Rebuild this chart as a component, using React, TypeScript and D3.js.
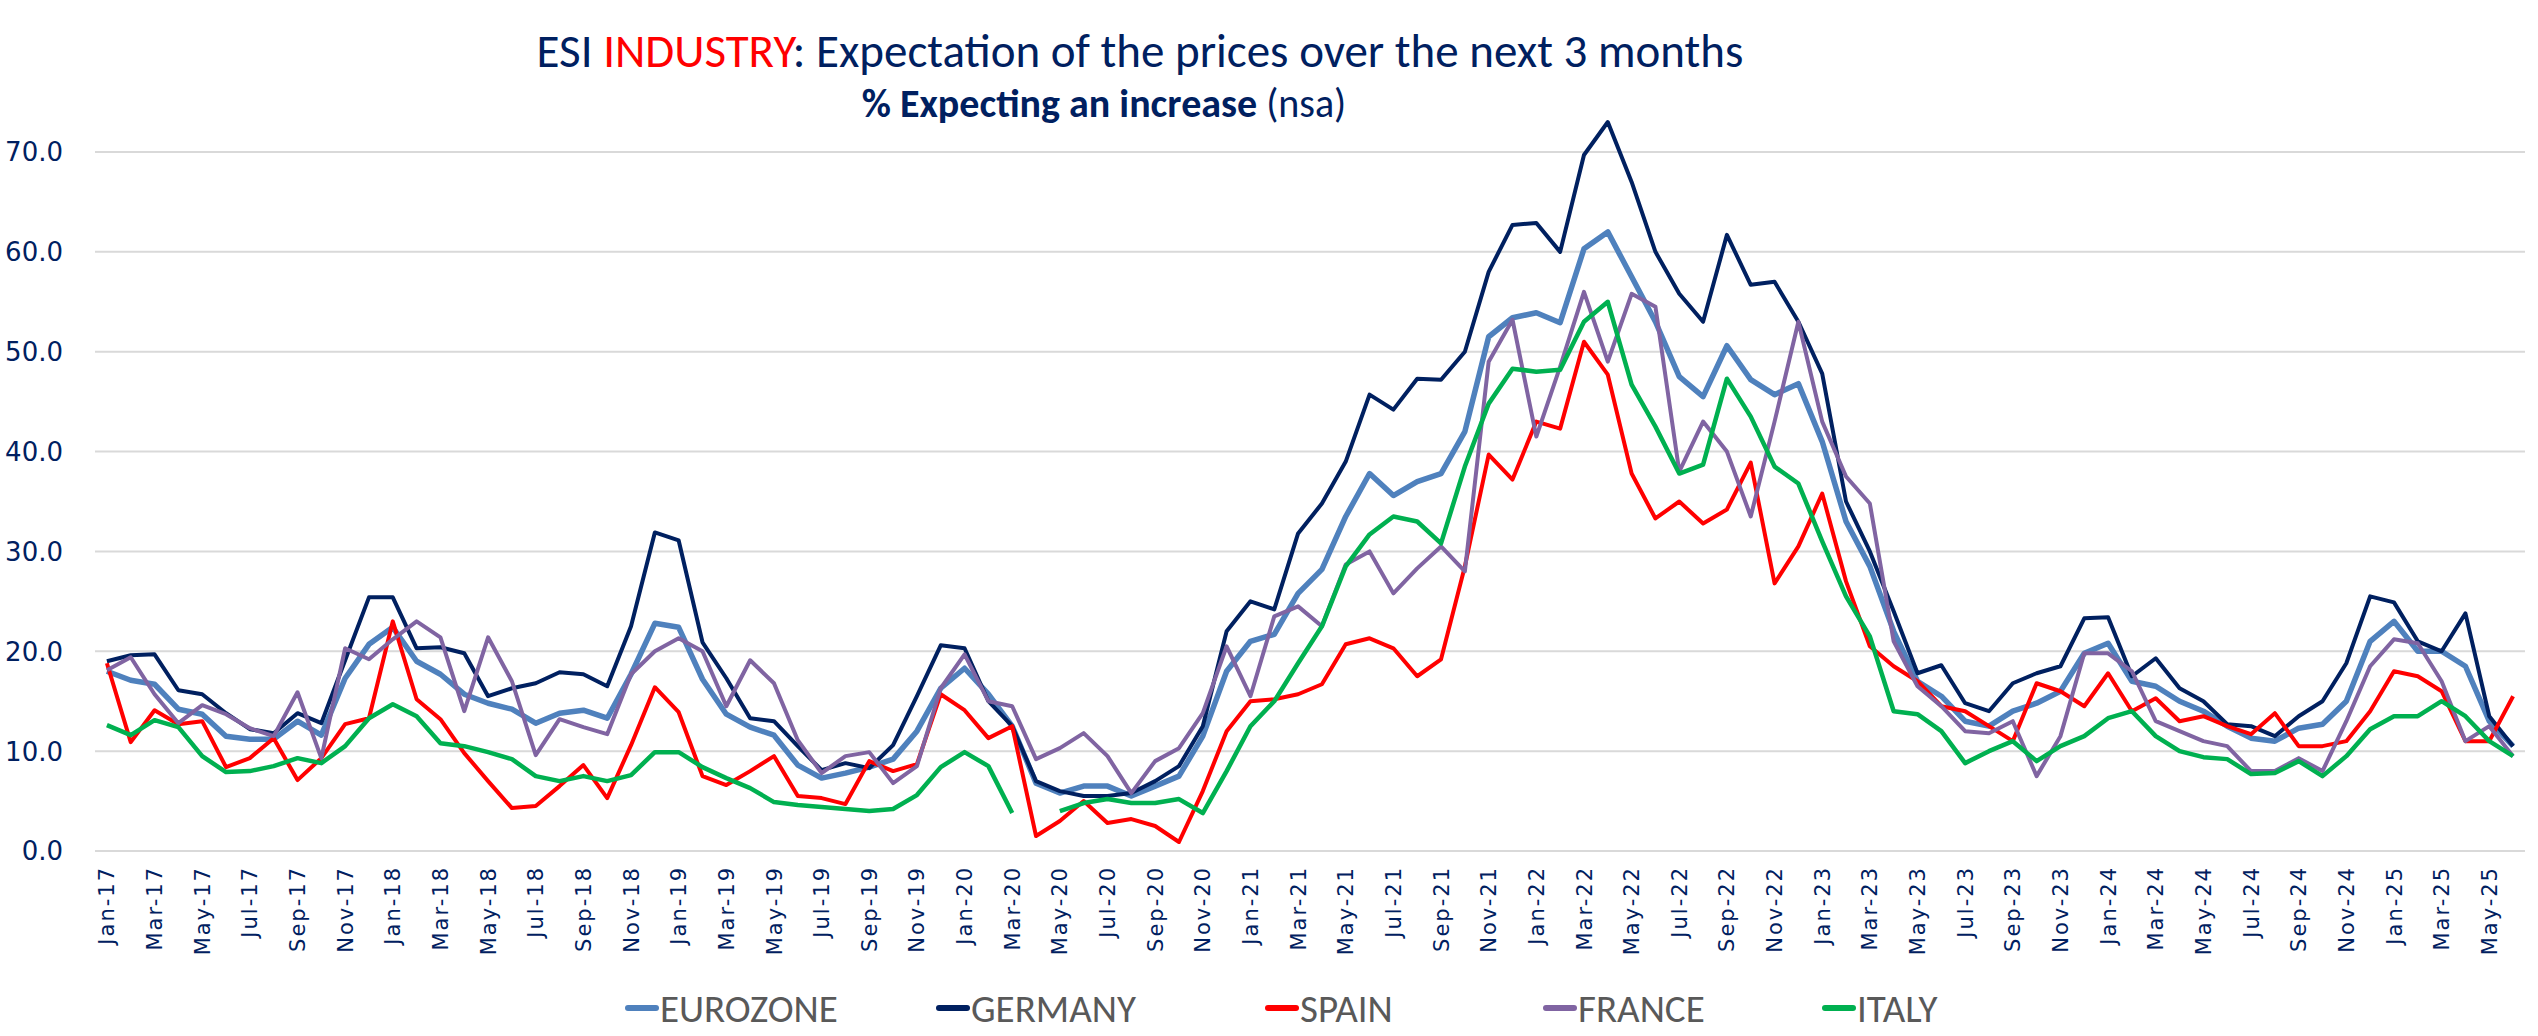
import React, { useEffect } from 'react';
import * as d3 from 'd3';

const MONTH_NAMES = ['Jan', 'Feb', 'Mar', 'Apr', 'May', 'Jun', 'Jul', 'Aug', 'Sep', 'Oct', 'Nov', 'Dec'];
const YEARS = ['17', '18', '19', '20', '21', '22', '23', '24', '25'];
const LAST_MONTH_2025 = 6; // data ends in Jun-25

const MONTHS: string[] = [];
YEARS.forEach(y => {
  MONTH_NAMES.forEach((m, i) => {
    if (y === '25' && i >= LAST_MONTH_2025) return;
    MONTHS.push(`${m}-${y}`);
  });
});

const Y_TICKS = [0, 10, 20, 30, 40, 50, 60, 70];

const EUROZONE = [
  18.0, 17.1, 16.7, 14.2, 13.7, 11.5, 11.2, 11.2, 13.0, 11.6, 17.3, 20.7,
  22.4, 19.0, 17.7, 15.7, 14.8, 14.2, 12.8, 13.8, 14.1, 13.3, 17.7, 22.8,
  22.4, 17.2, 13.7, 12.4, 11.6, 8.6, 7.3, 7.8, 8.4, 9.2, 12.0, 16.3,
  18.3, 15.7, 12.5, 6.8, 5.8, 6.5, 6.5, 5.5, 6.5, 7.5, 11.5, 18.0,
  21.0, 21.7, 25.8, 28.2, 33.5, 37.8, 35.6, 37.0, 37.8, 42.0, 51.5, 53.4,
  53.9, 52.9, 60.3, 62.0, 57.5, 53.0, 47.5, 45.5, 50.6, 47.2, 45.7, 46.8,
  41.0, 33.0, 28.5, 22.0, 17.0, 15.5, 13.0, 12.5, 14.0, 14.8, 16.0, 19.8,
  20.8, 17.0, 16.5, 15.0, 14.0, 12.5, 11.3, 11.0, 12.3, 12.7, 15.0, 21.0,
  23.0, 20.0, 20.0, 18.5, 13.0, 10.5,
];

const GERMANY = [
  19.0, 19.6, 19.7, 16.1, 15.7, 13.8, 12.2, 11.8, 13.8, 12.8, 19.1, 25.4,
  25.4, 20.3, 20.4, 19.8, 15.5, 16.3, 16.8, 17.9, 17.7, 16.5, 22.5, 31.9,
  31.1, 20.9, 17.3, 13.3, 13.0, 10.5, 8.1, 8.8, 8.3, 10.6, 15.5, 20.6,
  20.3, 15.0, 12.5, 7.0, 6.0, 5.5, 5.5, 5.8, 7.0, 8.5, 12.5, 22.0,
  25.0, 24.2, 31.8, 34.8, 39.0, 45.7, 44.2, 47.3, 47.2, 50.0, 58.0, 62.7,
  62.9, 60.0, 69.7, 73.0, 67.0, 60.0, 55.8, 53.0, 61.7, 56.7, 57.0, 53.0,
  47.8, 35.0, 30.0, 24.0, 17.8, 18.6, 14.8, 14.0, 16.8, 17.8, 18.5, 23.3,
  23.4, 17.5, 19.3, 16.3, 15.0, 12.7, 12.5, 11.5, 13.5, 15.0, 18.8, 25.5,
  24.9, 21.0, 20.0, 23.8, 13.5, 10.5,
];

const SPAIN = [
  18.8, 10.9, 14.1, 12.7, 13.0, 8.4, 9.3, 11.3, 7.1, 9.3, 12.7, 13.3,
  23.0, 15.2, 13.2, 9.8, 7.0, 4.3, 4.5, 6.5, 8.6, 5.3, 10.6, 16.4,
  13.9, 7.5, 6.6, 8.0, 9.5, 5.5, 5.3, 4.7, 9.0, 8.0, 8.7, 15.7,
  14.1, 11.3, 12.5, 1.5, 3.0, 5.0, 2.8, 3.2, 2.5, 0.9, 6.0, 12.0,
  15.0, 15.2, 15.7, 16.7, 20.7, 21.3, 20.3, 17.5, 19.2, 28.5, 39.7, 37.2,
  43.0, 42.3, 51.0, 47.7, 37.8, 33.3, 35.0, 32.8, 34.2, 38.9, 26.8, 30.5,
  35.8, 27.0, 20.5, 18.5, 17.0, 14.5, 14.0, 12.5, 11.0, 16.8, 16.0, 14.5,
  17.8, 14.0, 15.3, 13.0, 13.5, 12.5, 11.7, 13.8, 10.5, 10.5, 11.0, 14.0,
  18.0, 17.5, 16.0, 11.0, 11.0, 15.5,
];

const FRANCE = [
  18.1, 19.4, 15.7, 12.8, 14.6, 13.7, 12.3, 11.5, 15.9, 9.3, 20.3, 19.2,
  21.2, 23.0, 21.4, 14.0, 21.4, 17.0, 9.6, 13.2, 12.4, 11.7, 17.7, 20.0,
  21.3, 20.0, 14.5, 19.1, 16.8, 11.1, 7.8, 9.5, 9.9, 6.8, 8.5, 16.3,
  19.7, 15.0, 14.5, 9.2, 10.3, 11.8, 9.5, 5.8, 9.0, 10.3, 13.8, 20.5,
  15.5, 23.5, 24.5, 22.5, 28.7, 30.0, 25.8, 28.3, 30.5, 28.0, 49.0, 53.2,
  41.5, 48.5, 56.0, 49.0, 55.8, 54.5, 38.0, 43.0, 40.0, 33.5, 43.0, 53.0,
  43.0, 37.5, 34.8, 21.0, 16.5, 14.5, 12.0, 11.8, 13.0, 7.5, 11.5, 19.8,
  19.8, 18.0, 13.0, 12.0, 11.0, 10.5, 8.0, 8.0, 9.3, 8.0, 13.0, 18.5,
  21.2, 20.8, 17.0, 11.0, 12.5, 9.5,
];

const ITALY: (number | null)[] = [
  12.6, 11.6, 13.1, 12.4, 9.5, 7.9, 8.0, 8.5, 9.3, 8.8, 10.5, 13.3,
  14.7, 13.5, 10.8, 10.5, 9.9, 9.2, 7.5, 7.0, 7.5, 7.0, 7.6, 9.9,
  9.9, 8.4, 7.3, 6.3, 4.9, 4.6, 4.4, 4.2, 4.0, 4.2, 5.6, 8.4,
  9.9, 8.5, 3.8, null, 4.0, 4.8, 5.2, 4.8, 4.8, 5.2, 3.8, 8.0,
  12.5, 15.0, 18.8, 22.5, 28.5, 31.7, 33.5, 33.0, 30.8, 38.5, 44.8, 48.3,
  48.0, 48.2, 53.0, 55.0, 46.7, 42.5, 37.8, 38.7, 47.3, 43.5, 38.5, 36.8,
  31.0, 25.5, 21.5, 14.0, 13.7, 12.0, 8.8, 10.0, 11.0, 9.0, 10.5, 11.5,
  13.3, 14.0, 11.5, 10.0, 9.4, 9.2, 7.7, 7.8, 9.0, 7.5, 9.5, 12.2,
  13.5, 13.5, 15.0, 13.5, 11.0, 9.5,
];

const SERIES = [
  { name: 'EUROZONE', values: EUROZONE, color: '#4F81BD', width: 5.5 },
  { name: 'GERMANY', values: GERMANY, color: '#002060', width: 4 },
  { name: 'SPAIN', values: SPAIN, color: '#FF0000', width: 4 },
  { name: 'FRANCE', values: FRANCE, color: '#8064A2', width: 4 },
  { name: 'ITALY', values: ITALY, color: '#00B050', width: 4.5 },
];

const W = 2538;
const H = 1036;
const NAVY = '#002060';

const App: React.FC = () => {
  useEffect(() => {
    document.body.style.margin = '0';
  }, []);

  const x = d3.scalePoint<string>().domain(MONTHS).range([95, 2525]).padding(0.5);
  const y = d3.scaleLinear().domain([0, 70]).range([851, 152]);

  const line = d3.line<number | null>()
    .defined(d => d !== null)
    .x((_, i) => x(MONTHS[i]) as number)
    .y(d => y(d as number));

  const legendX = [628, 939, 1268, 1546, 1825];

  return (
    <svg width={W} height={H} style={{ display: 'block', background: '#fff' }}>
      {/* title */}
      <text x={1140} y={67} textAnchor="middle" fontFamily="Carlito, Lato, sans-serif" fontSize={47} fill={NAVY}>
        ESI <tspan fill="#FF0000">INDUSTRY</tspan>: Expectation of the prices over the next 3 months
      </text>
      <text x={1104} y={117} textAnchor="middle" fontFamily="Carlito, Lato, sans-serif" fontSize={40} fill={NAVY}>
        <tspan fontWeight="bold">% Expecting an increase</tspan> (nsa)
      </text>

      {/* grid + y labels */}
      {Y_TICKS.map(t => (
        <g key={t}>
          <line x1={95} x2={2525} y1={y(t)} y2={y(t)} stroke="#D9D9D9" strokeWidth={2} />
          <text x={63} y={y(t)} dy="0.36em" textAnchor="end" fontFamily="DejaVu Sans, sans-serif" fontSize={26} fill={NAVY}>
            {t.toFixed(1)}
          </text>
        </g>
      ))}

      {/* x labels */}
      {MONTHS.map((m, i) => i % 2 === 0 && (
        <text
          key={m}
          transform={`translate(${x(m)},866) rotate(-90)`}
          dy="0.36em"
          textAnchor="end"
          fontFamily="DejaVu Sans, sans-serif"
          fontSize={21}
          letterSpacing={2}
          fill={NAVY}
        >
          {m}
        </text>
      ))}

      {/* series */}
      {SERIES.map(s => (
        <path
          key={s.name}
          d={line(s.values as (number | null)[]) || ''}
          fill="none"
          stroke={s.color}
          strokeWidth={s.width}
          strokeLinejoin="round"
        />
      ))}

      {/* legend */}
      {SERIES.map((s, i) => (
        <g key={s.name} transform={`translate(${legendX[i]},1008)`}>
          <line x1={0} x2={28} y1={0} y2={0} stroke={s.color} strokeWidth={6} strokeLinecap="round" />
          <text x={32} y={0} dy="0.36em" fontFamily="Carlito, Lato, sans-serif" fontSize={39} fill="#595959">
            {s.name}
          </text>
        </g>
      ))}
    </svg>
  );
};

export default App;
